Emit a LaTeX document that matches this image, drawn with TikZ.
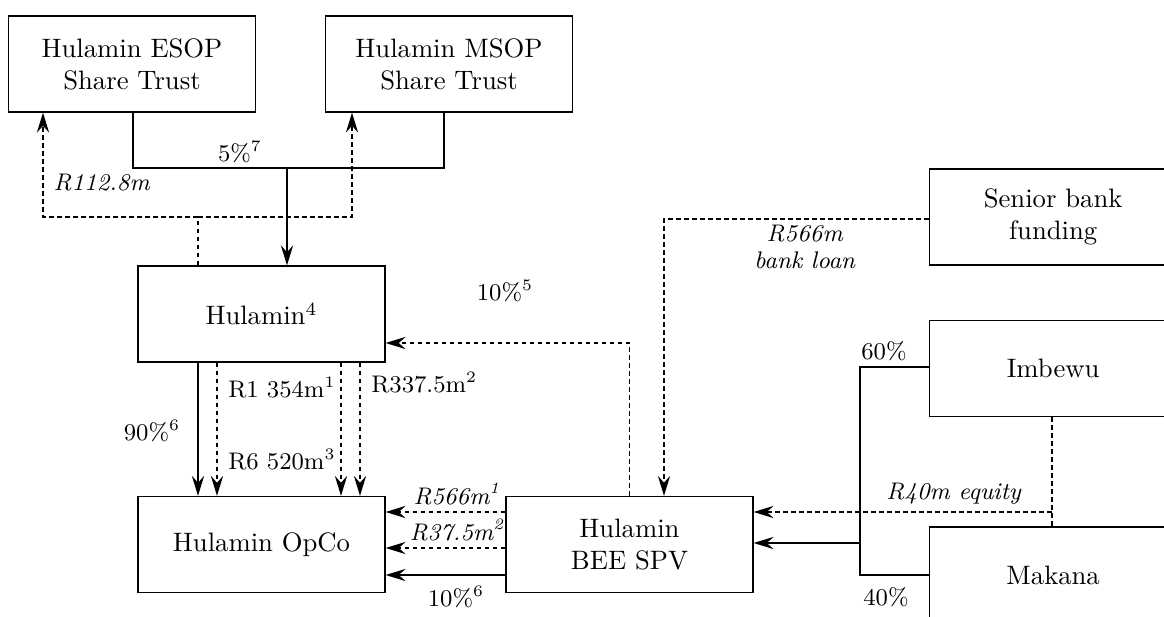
\documentclass[tikz,border=0pt]{standalone}
\usepackage{amsmath,amssymb}
\usepackage{tikz}
\usetikzlibrary{positioning,arrows.meta,calc}

\begin{document}
\begin{tikzpicture}[x=0.375pt,y=-0.375pt,font=\small,
   line width=0.45pt,
   entity/.style={draw,line width=0.5pt,minimum width=92.6pt,minimum height=36pt,
     align=center,inner sep=0pt,font=\normalsize},
   outer/.style={entity,anchor=west},
   own/.style={draw},
   cash/.style={draw,dash pattern=on 1.8pt off 1.2pt},
   tip/.style={-{Stealth[length=7.5pt,width=4.6pt,inset=2.6pt]}},
   lbl/.style={inner sep=1pt}]
  \useasboundingbox (0,0) rectangle (1164,617);
  \clip (0,0) rectangle (1164,617);
  % boxes
  \node[entity] (esop) at (132,64) {Hulamin ESOP\\Share Trust};
  \node[entity] (msop) at (449,64) {Hulamin MSOP\\Share Trust};
  \node[entity] (hul) at (261.5,314) {Hulamin$^4$};
  \node[entity] (opco) at (261.5,544.5) {Hulamin OpCo};
  \node[entity] (spv) at (629.5,544.5) {Hulamin\\BEE SPV};
  \node[outer] (bank) at (929,217) {Senior bank\\funding};
  \node[outer] (imb) at (929,368.5) {Imbewu};
  \node[outer] (mak) at (929,575) {Makana};
  % trusts
  \coordinate (own5) at (287,168);
  \coordinate (pay5) at (198,217);
  \draw[own] (esop.south -| 133,0) |- (own5) -| (msop.south -| 444,0);
  \draw[own,tip] (own5) -- (hul.north -| own5);
  \draw[cash] (hul.north -| pay5) -- (pay5);
  \draw[cash,tip] (pay5) -| (esop.south -| 43,0);
  \draw[cash,tip] (pay5) -| (msop.south -| 352,0);
  \node[lbl] (l5) at (240,152) {5\%$^7$};
  \node[lbl] (l1128) at (102,183) {\textit{R112.8m}};
  % Hulamin to OpCo
  \draw[own,tip] (hul.south -| 198,0) -- (opco.north -| 198,0);
  \foreach \x in {217,341,360}
    \draw[cash,tip] (hul.south -| \x,0) -- (opco.north -| \x,0);
  \node[lbl,anchor=west] (l1354) at (225,388) {R1 354m$^1$};
  \node[lbl,anchor=west] (l3375) at (368,383) {R337.5m$^2$};
  \node[lbl] (l90) at (152,431) {90\%$^6$};
  \node[lbl,anchor=west] (l6520) at (225,460) {R6 520m$^3$};
  % SPV
  \draw[cash,tip] (spv.west |- 0,512) -- (opco.east |- 0,512);
  \draw[cash,tip] (spv.west |- 0,548) -- (opco.east |- 0,548);
  \draw[own,tip] (spv.west |- 0,575) -- (opco.east |- 0,575);
  \draw[cash,tip] (spv.north) |- (hul.east |- 0,343);
  \node[lbl] (l566) at (457,494) {\textit{R566m\textsuperscript{1}}};
  \node[lbl] (l375) at (457,530) {\textit{R37.5m\textsuperscript{2}}};
  \node[lbl] (l10b) at (456,597) {10\%$^6$};
  \node[lbl] (l10a) at (505,291) {10\%$^5$};
  % funders
  \draw[cash,tip] (bank.west |- 0,219) -| (spv.north -| 664,0);
  \node[lbl,align=center] (lloan) at (805,247) {\textit{R566m}\\[-1pt]\textit{bank loan}};
  \coordinate (own60) at (860,543);
  \coordinate (eq) at (1052,512);
  \draw[own] (imb.west |- 0,367) -| (own60 |- mak.west) -- (mak.west);
  \draw[own,tip] (own60) -- (spv.east |- own60);
  \draw[cash] (imb.south -| eq) -- (mak.north -| eq);
  \draw[cash,tip] (eq) -- (spv.east |- eq);
  \node[lbl] (l60) at (884,351) {60\%};
  \node[lbl] (l40) at (886,597) {40\%};
  \node[lbl] (leq) at (954,494) {\textit{R40m equity}};
\end{tikzpicture}
\end{document}
